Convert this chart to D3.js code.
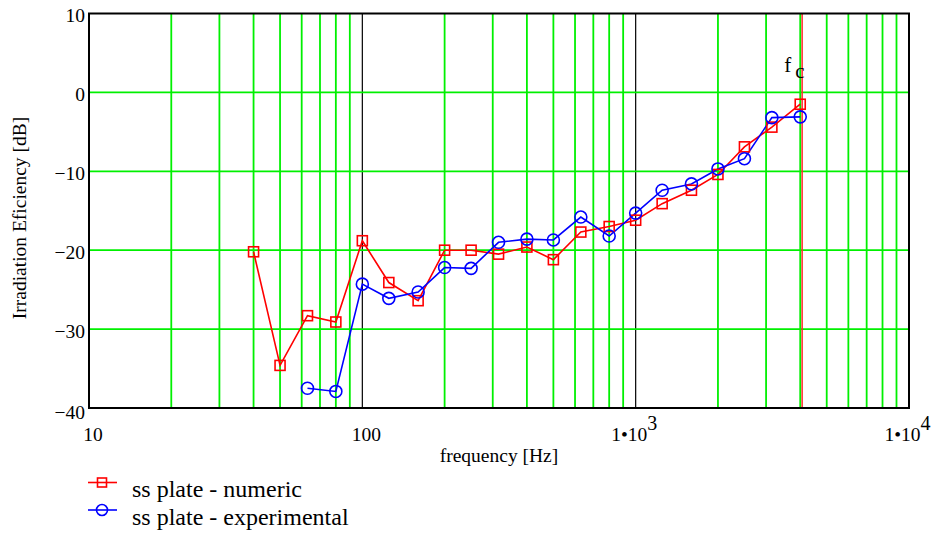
<!DOCTYPE html>
<html>
<head>
<meta charset="utf-8">
<script src="https://cdn.jsdelivr.net/npm/d3@7"></script>
<style>
  html, body { margin: 0; padding: 0; background: #fff; }
  svg { display: block; }
</style>
</head>
<body>
<svg id="chart" width="935" height="534"></svg>
<script>
// ---- data ----
const freqs = [40, 50, 63, 80, 100, 125, 160, 200, 250, 315, 400, 500, 630, 800, 1000, 1250, 1600, 2000, 2500, 3150, 4000];
const numeric = [-20.2, -34.6, -28.3, -29.1, -18.8, -24.1, -26.4, -20.0, -20.0, -20.5, -19.6, -21.2, -17.7, -17.0, -16.2, -14.1, -12.4, -10.4, -6.9, -4.4, -1.5];
const expFreqs = [63, 80, 100, 125, 160, 200, 250, 315, 400, 500, 630, 800, 1000, 1250, 1600, 2000, 2500, 3150, 4000];
const experimental = [-37.5, -37.9, -24.3, -26.1, -25.3, -22.2, -22.3, -19.0, -18.6, -18.7, -15.8, -18.2, -15.3, -12.4, -11.6, -9.7, -8.4, -3.2, -3.1];
const yTicks = [10, 0, -10, -20, -30, -40];
const xTickLabels = [
  {v: 10, base: "10", exp: ""},
  {v: 100, base: "100", exp: ""},
  {v: 1000, base: "1\u202210", exp: "3"},
  {v: 10000, base: "1\u202210", exp: "4"}
];
const fc = 4065;
const seriesNames = ["ss plate - numeric", "ss plate - experimental"];

// ---- layout ----
const FONT = "'Liberation Serif', 'Times New Roman', 'DejaVu Serif', serif";
const svg = d3.select("#chart");
const x = d3.scaleLog().domain([10, 10000]).range([89, 909]);
const y = d3.scaleLinear().domain([-40, 10]).range([408, 13.5]);
const green = "#00f000";

// vertical grid
const xt = x.ticks().filter(v => v > 10 && v < 10000);
const isDecade = d => Math.abs(Math.log10(d) - Math.round(Math.log10(d))) < 1e-9;
svg.append("g").selectAll("line").data(xt).join("line")
  .attr("x1", d => x(d)).attr("x2", d => x(d))
  .attr("y1", y(10)).attr("y2", y(-40))
  .attr("stroke", d => isDecade(d) ? "#000" : green)
  .attr("stroke-width", d => isDecade(d) ? 1.2 : 1.8);

// horizontal grid
svg.append("g").selectAll("line").data(yTicks.filter(v => v < 10 && v > -40)).join("line")
  .attr("x1", x(10)).attr("x2", x(10000))
  .attr("y1", d => y(d)).attr("y2", d => y(d))
  .attr("stroke", green).attr("stroke-width", 1.8);

// fc line
svg.append("line")
  .attr("x1", x(fc)).attr("x2", x(fc))
  .attr("y1", y(10)).attr("y2", y(-40))
  .attr("stroke", "#ff2a2a").attr("stroke-width", 1.5);

const fcText = svg.append("text")
  .attr("x", x(fc) - 18).attr("y", 72)
  .attr("font-family", FONT)
  .style("font-size", "21px");
fcText.append("tspan").text("f");
fcText.append("tspan").attr("dx", 4).attr("dy", 6).text("c");

// frame
svg.append("rect")
  .attr("x", x(10)).attr("y", y(10))
  .attr("width", x(10000) - x(10)).attr("height", y(-40) - y(10))
  .attr("fill", "none").attr("stroke", "#000").attr("stroke-width", 2);

// y tick labels
svg.append("g").selectAll("text").data(yTicks).join("text")
  .attr("x", 85).attr("y", d => y(d) + (d === -40 ? 4 : 2))
  .attr("dy", "0.35em")
  .attr("text-anchor", "end")
  .attr("font-family", FONT)
  .style("font-size", "19.5px")
  .text(d => d < 0 ? "\u2212" + Math.abs(d) : String(d));

// x tick labels
const xl = svg.append("g").selectAll("text").data(xTickLabels).join("text")
  .attr("x", d => x(d.v) + (d.exp ? -1.5 : 4))
  .attr("y", 441)
  .attr("text-anchor", "middle")
  .attr("font-family", FONT)
  .style("font-size", "19.5px");
xl.append("tspan").text(d => d.base);
xl.append("tspan").attr("dy", -11).style("font-size", "20px").text(d => d.exp);

// axis titles
svg.append("text")
  .attr("x", 499).attr("y", 462)
  .attr("text-anchor", "middle")
  .attr("font-family", FONT)
  .style("font-size", "19.5px")
  .text("frequency [Hz]");
svg.append("text")
  .attr("transform", "translate(26,218) rotate(-90)")
  .attr("text-anchor", "middle")
  .attr("font-family", FONT)
  .style("font-size", "19.5px")
  .text("Irradiation Eficiency [dB]");

// series
const line = d3.line().x(d => x(d[0])).y(d => y(d[1]));
const numPts = freqs.map((f, i) => [f, numeric[i]]);
const expPts = expFreqs.map((f, i) => [f, experimental[i]]);

svg.append("path").datum(numPts).attr("d", line)
  .attr("fill", "none").attr("stroke", "#ff0000").attr("stroke-width", 1.6);
svg.append("path").datum(expPts).attr("d", line)
  .attr("fill", "none").attr("stroke", "#0000ff").attr("stroke-width", 1.6);

svg.append("g").selectAll("rect").data(numPts).join("rect")
  .attr("x", d => x(d[0]) - 5).attr("y", d => y(d[1]) - 5)
  .attr("width", 10).attr("height", 10)
  .attr("fill", "none").attr("stroke", "#ff0000").attr("stroke-width", 1.6);
svg.append("g").selectAll("circle").data(expPts).join("circle")
  .attr("cx", d => x(d[0])).attr("cy", d => y(d[1])).attr("r", 6)
  .attr("fill", "none").attr("stroke", "#0000ff").attr("stroke-width", 1.6);

// legend
const legend = svg.append("g");
const lg = [{name: seriesNames[0], color: "#ff0000", shape: "square", y: 482.5},
            {name: seriesNames[1], color: "#0000ff", shape: "circle", y: 510}];
lg.forEach(d => {
  legend.append("line").attr("x1", 88).attr("x2", 117).attr("y1", d.y).attr("y2", d.y)
    .attr("stroke", d.color).attr("stroke-width", 1.6);
  if (d.shape === "square") {
    legend.append("rect").attr("x", 97.5).attr("y", d.y - 4.5).attr("width", 9).attr("height", 9)
      .attr("fill", "none").attr("stroke", d.color).attr("stroke-width", 1.6);
  } else {
    legend.append("circle").attr("cx", 102).attr("cy", d.y).attr("r", 5.5)
      .attr("fill", "none").attr("stroke", d.color).attr("stroke-width", 1.6);
  }
  legend.append("text").attr("x", 132).attr("y", d.y + 14.5)
    .attr("font-family", FONT)
    .style("font-size", "24px").text(d.name);
});
</script>
</body>
</html>
